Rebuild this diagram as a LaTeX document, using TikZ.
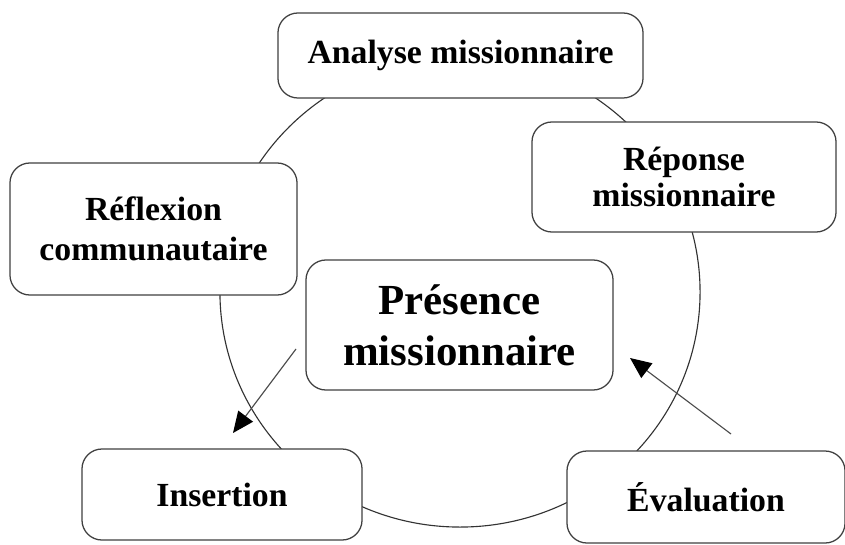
\documentclass[tikz,border=0pt]{standalone}
\usepackage{fontspec}
\setmainfont{Liberation Serif}
\usetikzlibrary{arrows.meta}

\tikzset{
  etape/.style={draw=black!75, line width=0.9pt, rounded corners=0.5cm,
    fill=white, align=center, inner sep=0pt,
    font=\bfseries\fontsize{24}{26}\selectfont},
  fleche/.style={-{Triangle[length=15pt,width=13pt,color=black]}, line width=0.8pt, draw=black!70},
}

\begin{document}
\begin{tikzpicture}[x=0.025cm, y=-0.025cm]
    \useasboundingbox (0,0) rectangle (845,544);

    % Cycle
    \coordinate (centre) at (460,292);
    \draw[black!80, line width=0.8pt] (centre) ellipse [x radius=6cm, y radius=5.875cm];

    % Steps
    \node[etape, minimum width=9.125cm, minimum height=2.125cm] (analyse) at (460.5,55.5) {Analyse missionnaire};
    \node[etape, minimum width=7.6cm, minimum height=2.75cm,
      font=\bfseries\fontsize{24}{25}\selectfont] (reponse) at (684,177) {Réponse\\missionnaire};
    \node[etape, minimum width=7.175cm, minimum height=3.3cm,
      font=\bfseries\fontsize{24}{28}\selectfont] (reflexion) at (153.5,229) {Réflexion\\communautaire};
    \node[etape, minimum width=7.675cm, minimum height=3.25cm,
      font=\bfseries\fontsize{30.5}{36}\selectfont] (presence) at (459.5,325) {Présence\\missionnaire};
    \node[etape, minimum width=7cm, minimum height=2.275cm] (insertion) at (222,494.5) {Insertion};
    \node[etape, minimum width=6.95cm, minimum height=2.3cm] (evaluation) at (706,497) {Évaluation};

    % Arrows
    \coordinate (depart1) at (296,349);
    \coordinate (fin1) at (233,433);
    \coordinate (depart2) at (731,434);
    \coordinate (fin2) at (630,358);
    \draw[fleche] (depart1) -- (fin1);
    \draw[fleche] (depart2) -- (fin2);
\end{tikzpicture}
\end{document}
